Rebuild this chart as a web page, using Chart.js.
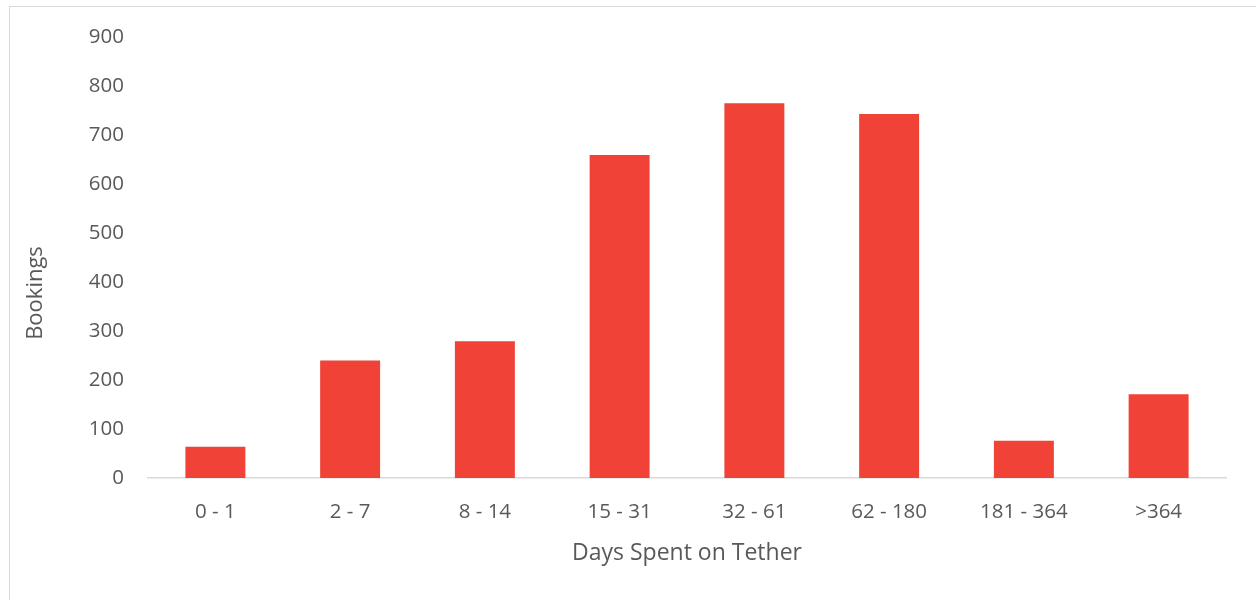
<!DOCTYPE html>
<html>
<head>
<meta charset="utf-8">
<script src="https://cdn.jsdelivr.net/npm/chart.js@4/dist/chart.umd.min.js"></script>
<style>
  html, body { margin: 0; padding: 0; background: #fff; overflow: hidden; }
  #frame {
    position: absolute; left: 9px; top: 6px; width: 1300px; height: 650px;
    border: 1px solid #d9d9d9; box-sizing: border-box;
  }
  #wrap { position: absolute; left: 0; top: 0; width: 1256px; height: 600px; }
</style>
</head>
<body>
<div id="frame"></div>
<div id="wrap"><canvas id="chart" width="1256" height="600"></canvas></div>
<script>
const categories = ["0 - 1", "2 - 7", "8 - 14", "15 - 31", "32 - 61", "62 - 180", "181 - 364", ">364"];
const bookings = [64, 240, 279, 659, 765, 743, 76, 171];
const yTicks = [0, 100, 200, 300, 400, 500, 600, 700, 800, 900];
const yTitle = "Bookings";
const xTitle = "Days Spent on Tether";

const textColor = "#595959";
const fontFamily = "'Open Sans', sans-serif";

// excel puts the y title a bit lower than the plot middle, so draw it by hand
const yTitlePlugin = {
  id: "yTitle",
  afterDraw(chart) {
    const c = chart.ctx;
    c.save();
    c.translate(36, 293);
    c.rotate(-Math.PI / 2);
    c.font = "22px " + fontFamily;
    c.fillStyle = textColor;
    c.textAlign = "center";
    c.textBaseline = "middle";
    c.fillText(yTitle, 0, 0);
    c.restore();
  }
};

const ctx = document.getElementById("chart").getContext("2d");
new Chart(ctx, {
  type: "bar",
  data: {
    labels: categories,
    datasets: [{
      data: bookings,
      backgroundColor: "#f04236",
      borderWidth: 0,
      categoryPercentage: 1,
      barPercentage: 0.445
    }]
  },
  options: {
    responsive: false,
    animation: false,
    layout: { padding: { left: 10, right: 30, top: 37, bottom: 0 } },
    plugins: { legend: { display: false }, tooltip: { enabled: false } },
    scales: {
      x: {
        grid: { display: false, drawTicks: false },
        border: { display: true, color: "#d9d9d9", width: 1.5 },
        ticks: { color: textColor, font: { family: fontFamily, size: 20.5 }, padding: 22, maxRotation: 0 },
        title: {
          display: true, text: xTitle, color: textColor,
          font: { family: fontFamily, size: 23 }, padding: { top: 0, bottom: 33 }
        },
        afterFit: (scale) => { scale.height = 122; }
      },
      y: {
        min: 0, max: 900,
        afterBuildTicks: (scale) => { scale.ticks = yTicks.map((v) => ({ value: v })); },
        grid: { display: false, drawTicks: false },
        border: { display: false },
        ticks: { color: textColor, font: { family: fontFamily, size: 20.5 }, padding: 24 },
        title: { display: false },
        afterFit: (scale) => { scale.width = 138; }
      }
    }
  },
  plugins: [yTitlePlugin]
});
</script>
</body>
</html>
